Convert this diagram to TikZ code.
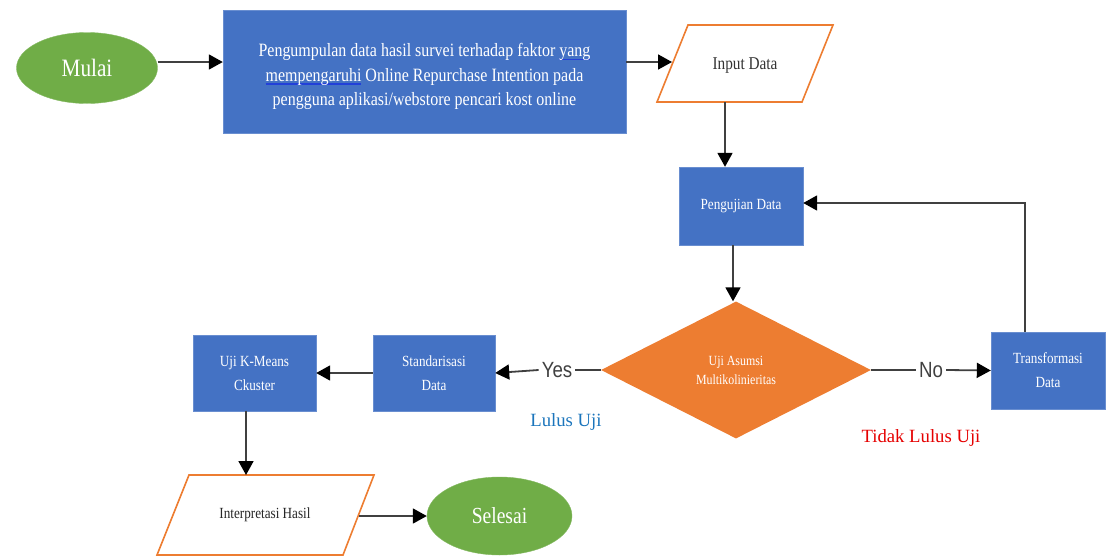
\documentclass[tikz,border=0pt]{standalone}
\usepackage{fontspec}
\setmainfont{Liberation Serif}
\setsansfont{Liberation Sans}
\newfontfamily\cond[FakeStretch=0.85]{Liberation Serif}
\newfontfamily\condsans[FakeStretch=0.85]{Liberation Sans}
\usetikzlibrary{shapes.geometric,arrows.meta}
\definecolor{fblue}{HTML}{4472C4}
\definecolor{forange}{HTML}{ED7D31}
\definecolor{fgreen}{HTML}{70AD47}
\definecolor{lineg}{HTML}{404040}
\definecolor{lulusblue}{HTML}{1B75BC}
\definecolor{squigblue}{HTML}{2240D8}
\newsavebox\sqbox
\newcommand\squig[1]{\sbox\sqbox{#1}\rlap{\textcolor{squigblue}{\rule[-3.5pt]{\wd\sqbox}{1.5pt}}}\usebox\sqbox}
\tikzset{
  procbox/.style={rectangle, fill=fblue, draw=fblue!80!white, text=white, align=center, inner sep=2pt},
  termnode/.style={ellipse, fill=fgreen, draw=fgreen!85!white, text=white, inner sep=0pt},
  decnode/.style={diamond, fill=forange, text=white, align=center, inner sep=0pt},
  iobox/.style={draw=forange, line width=1.6pt, fill=white, line join=miter},
  conn/.style={draw=lineg, line width=1.8pt},
  arr/.style={conn, -{Triangle[length=14pt,width=15pt,color=black]}},
  yn/.style={font=\condsans\fontsize{22}{22}\selectfont, text=lineg, inner sep=3pt},
  smalltxt/.style={font=\cond\fontsize{15.5}{24}\selectfont},
}
\begin{document}
\begin{tikzpicture}[x=1pt,y=-1pt]
\useasboundingbox (0,0) rectangle (1106,557);

% terminals
\node[termnode, minimum width=141pt, minimum height=71pt, font=\cond\fontsize{25}{25}\selectfont] (mulai) at (87,68) {Mulai};
\node[termnode, minimum width=145pt, minimum height=78pt, font=\cond\fontsize{23}{23}\selectfont] (selesai) at (499.5,516) {Selesai};

% first process
\node[procbox, minimum width=403pt, minimum height=123pt] (collect) at (424.5,71.5) {};
\node[text=white, align=center, font=\cond\fontsize{18.8}{24.5}\selectfont] (collecttext) at ([yshift=-5pt]collect.center)
  {Pengumpulan data hasil survei terhadap faktor \squig{yang}\\ \squig{mempengaruhi} Online Repurchase Intention pada\\ pengguna aplikasi/webstore pencari kost online};

% input parallelogram
\draw[iobox] (688,25) -- (833,25) -- (802,102) -- (657,102) -- cycle;
\node[font=\cond\fontsize{18}{18}\selectfont, text=black!80] (input) at (745,66) {Input Data};
\coordinate (inL) at (672,62);
\coordinate (inB) at (725,102);

% process boxes
\node[procbox, minimum width=124pt, minimum height=78pt, smalltxt] (test) at (741,206) {Pengujian Data};
\node[decnode, minimum width=270pt, minimum height=137pt, font=\cond\fontsize{14}{19}\selectfont] (dia) at (736,370) {Uji Asumsi\\Multikolinieritas};
\node[procbox, minimum width=114pt, minimum height=77pt, smalltxt] (trans) at (1048,370.5) {Transformasi\\Data};
\node[procbox, minimum width=122pt, minimum height=76pt, smalltxt] (std) at (434,373) {Standarisasi\\Data};
\node[procbox, minimum width=123pt, minimum height=76pt, smalltxt] (kmeans) at (254.5,373) {Uji K-Means\\Ckuster};

% interpretasi parallelogram
\draw[iobox] (189,475) -- (374,475) -- (343,555) -- (157,555) -- cycle;
\node[font=\cond\fontsize{15.5}{15.5}\selectfont, text=black!85] (interp) at (265,515) {Interpretasi Hasil};
\coordinate (ipR) at (359,516);
\coordinate (kmB) at (246,411);

% labels
\node[yn] (yes) at (557,370) {Yes};
\node[yn] (no) at (931,370) {No};
\node[font=\fontsize{18.7}{18.7}\selectfont, text=lulusblue] (lulus) at (566,422) {Lulus Uji};
\node[font=\fontsize{18.7}{18.7}\selectfont, text=red!90!black] (tidak) at (921,438) {Tidak Lulus Uji};

% connectors
\draw[arr] (mulai.east |- 0,62) -- (collect.west |- 0,62);
\draw[arr] (collect.east |- 0,62) -- (inL);
\draw[arr] (inB) -- (inB |- test.north);
\draw[arr] (test.south -| 733,0) -- (dia.north -| 733,0);
\draw[conn] (dia.east) -- (no.west);
\draw[arr] (no.east) -- (trans.west);
\draw[arr] ([xshift=-23pt]trans.north) |- ([yshift=3pt]test.east);
\draw[conn] (dia.west) -- (yes.east);
\draw[arr] (yes.west) -- (std.east);
\draw[arr] (std.west) -- (kmeans.east);
\draw[arr] (kmB) -- (kmB |- 0,475);
\draw[arr] (ipR) -- (ipR -| selesai.west);
\end{tikzpicture}
\end{document}
